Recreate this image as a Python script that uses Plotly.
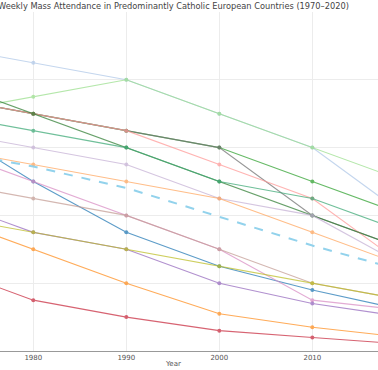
import plotly.graph_objects as go

years = [1970, 1980, 1990, 2000, 2010, 2020]

series_names = [
    "S06", "S05", "S04", "S01", "S02", "S03", "S07", "S08",
    "S09", "S10", "S11", "S12", "S13", "S14", "S15", "S16",
]
series_values = [
    [75, 70, 65, 60, 50, 40],   # green
    [75, 70, 65, 60, 40, 30],   # gray
    [75, 70, 65, 55, 45, 25],   # salmon
    [90, 85, 80, 70, 60, 40],   # light blue
    [70, 75, 80, 70, 60, 50],   # light green
    [80, 70, 60, 50, 40, 30],   # dark green
    [70, 65, 60, 50, 45, 35],   # teal
    [65, 60, 55, 45, 40, 25],   # thistle
    [60, 55, 50, 45, 35, 25],   # light orange
    [67, 50, 35, 25, 18, 12],   # steel blue
    [60, 50, 40, 30, 15, 12],   # pink
    [50, 45, 40, 30, 20, 15],   # rosy brown
    [45, 35, 30, 20, 14, 10],   # purple
    [40, 35, 30, 25, 20, 15],   # olive
    [40, 30, 20, 11, 7, 4],     # orange
    [25, 15, 10, 6, 4, 2],      # crimson
]
series_colors = [
    "#2ca02c", "#6f6f6f", "#ff9896", "#aec7e8", "#98df8a", "#2f7d32",
    "#3aa874", "#c5b0d5", "#ffa55c", "#1f77b4", "#d98cc4", "#c49c94",
    "#9467bd", "#bcbd22", "#ff8c1a", "#c8283c",
]
average_values = [59.5, 54.4, 48.1, 39.7, 31.1, 23.5]

title_text = "Weekly Mass Attendance in Predominantly Catholic European Countries (1970\u20132020)"

fig = go.Figure()
for name, vals, col in zip(series_names, series_values, series_colors):
    fig.add_trace(go.Scatter(
        x=years, y=vals, name=name, mode="lines+markers",
        line=dict(color=col, width=1.1), marker=dict(color=col, size=4),
        opacity=0.72, showlegend=False,
    ))
fig.add_trace(go.Scatter(
    x=years, y=average_values, name="Average", mode="lines",
    line=dict(color="#87ceeb", width=2, dash="dash"), opacity=0.9, showlegend=False,
))

fig.update_layout(
    width=378, height=370,
    margin=dict(l=0, r=0, t=12, b=19),
    paper_bgcolor="white", plot_bgcolor="white",
    font=dict(family="DejaVu Sans", color="#555"),
    xaxis=dict(range=[1976.42, 2017.06], tickvals=[1970, 1980, 1990, 2000, 2010, 2020],
               showgrid=True, gridcolor="#ececec", gridwidth=1, zeroline=False,
               showline=True, linecolor="#999", linewidth=1,
               tickfont=dict(size=7, color="#555"), ticks=""),
    yaxis=dict(range=[0, 100], tickvals=[0, 20, 40, 60, 80, 100],
               showgrid=True, gridcolor="#ececec", gridwidth=1, zeroline=False,
               showticklabels=False, showline=False),
    annotations=[
        dict(text=title_text, xref="paper", yref="paper", x=351 / 378, y=1.018,
             xanchor="right", yanchor="middle", showarrow=False,
             font=dict(family="DejaVu Sans", size=8.25, color="#444")),
        dict(text="Year", xref="paper", yref="paper", x=173 / 378, y=-0.037,
             xanchor="center", yanchor="middle", showarrow=False,
             font=dict(family="DejaVu Sans", size=7, color="#555")),
    ],
)

fig.write_html(
    "out.html",
    config={"displayModeBar": False},
    post_script="document.body.style.margin='0px';document.body.style.padding='0px';document.body.style.overflow='hidden';",
)
